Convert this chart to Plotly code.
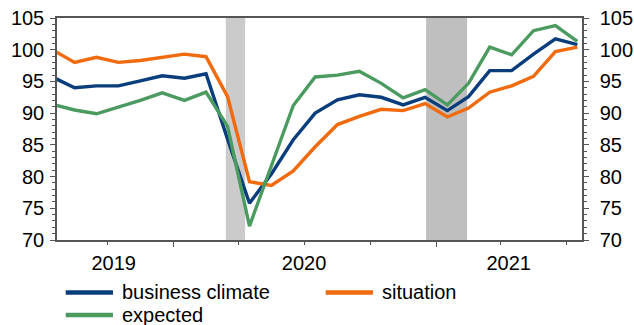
import plotly.graph_objects as go

# ---------------- data ----------------
months = ["2019-07", "2019-08", "2019-09", "2019-10", "2019-11", "2019-12",
          "2020-01", "2020-02", "2020-03", "2020-04", "2020-05", "2020-06",
          "2020-07", "2020-08", "2020-09", "2020-10", "2020-11", "2020-12",
          "2021-01", "2021-02", "2021-03", "2021-04", "2021-05", "2021-06",
          "2021-07"]

business_climate = [95.7, 94.0, 94.3, 94.3, 95.1, 95.9, 95.5, 96.2, 85.9, 75.8,
                    80.4, 85.8, 90.0, 92.1, 92.9, 92.5, 91.3, 92.5, 90.4, 92.6,
                    96.7, 96.7, 99.3, 101.7, 100.8]
situation = [100.0, 98.0, 98.8, 98.0, 98.3, 98.8, 99.3, 98.9, 92.6, 79.2,
             78.6, 80.9, 84.7, 88.2, 89.5, 90.6, 90.4, 91.5, 89.4, 90.8,
             93.3, 94.3, 95.8, 99.7, 100.4]
expected = [91.4, 90.5, 89.9, 90.9, 92.0, 93.2, 92.0, 93.3, 87.9, 72.2,
            81.7, 91.2, 95.7, 96.0, 96.6, 94.7, 92.4, 93.7, 91.3, 94.7,
            100.4, 99.2, 103.0, 103.8, 101.3]

series_names = ["business climate", "situation", "expected"]
series_colors = ["#0a3d7c", "#f06a0e", "#4b9a60"]

# shaded periods (start, end, colour)
shade_start = ["2020-03-14", "2020-12-18"]
shade_end = ["2020-04-10", "2021-02-13"]
shade_color = ["#cbcbcb", "#bfbfbf"]

year_labels = ["2019", "2020", "2021"]
year_label_pos = ["2019-10-10", "2020-07-01", "2021-04-12"]
year_bounds = ["2020-01-01", "2021-01-01"]
quarter_ticks = ["2019-10-01", "2020-04-01", "2020-07-01", "2020-10-01",
                 "2021-04-01", "2021-07-01"]

x_range = ["2019-07-23", "2021-07-23"]
y_range = [70, 105]

FONT = "Liberation Sans, Arial, sans-serif"
FS = 20
AXC = "#555555"

fig = go.Figure()
axes_for = [("x", "y"), ("x", "y"), ("x2", "y2")]
for name, vals, col, (xa, ya) in zip(series_names, [business_climate, situation, expected],
                                     series_colors, axes_for):
    fig.add_trace(go.Scatter(
        x=months, y=vals, name=name, mode="lines",
        xperiod="M1", xperiodalignment="middle",
        xaxis=xa, yaxis=ya,
        line=dict(color=col, width=3.4), showlegend=False,
        hoverinfo="skip"))

for s, e, c in zip(shade_start, shade_end, shade_color):
    fig.add_shape(type="rect", xref="x", yref="paper", x0=s, x1=e, y0=0, y1=1,
                  fillcolor=c, line=dict(width=0), layer="below")

# manual legend
leg_items = [
    (series_names[0], series_colors[0], 0.0166, -0.236),
    (series_names[1], series_colors[1], 0.5118, -0.236),
    (series_names[2], series_colors[2], 0.0166, -0.338),
]
for name, col, lx, ly in leg_items:
    fig.add_shape(type="line", xref="paper", yref="paper", x0=lx, x1=lx + 0.090,
                  y0=ly, y1=ly, line=dict(color=col, width=4.5))
    fig.add_annotation(xref="paper", yref="paper", x=lx + 0.103, y=ly,
                       text=name, showarrow=False, xanchor="left", yanchor="middle",
                       font=dict(family=FONT, size=FS, color="#000000"))

yaxis_common = dict(
    range=y_range, dtick=5, tick0=70, ticks="outside", ticklen=5, tickwidth=1.3,
    tickcolor=AXC, showline=True, linecolor=AXC, linewidth=1.5, showgrid=False,
    zeroline=False, automargin=False,
    tickfont=dict(family=FONT, size=FS, color="#000000"),
    minor=dict(dtick=1, tick0=70, ticks="outside", ticklen=3, tickwidth=1.1, tickcolor=AXC),
)

fig.update_layout(
    width=634, height=325,
    margin=dict(l=57, r=52, t=18, b=85, autoexpand=False),
    paper_bgcolor="white", plot_bgcolor="rgba(0,0,0,0)",
    font=dict(family=FONT, size=FS, color="#000000"),
    xaxis=dict(
        type="date", range=x_range, tickmode="array", tickvals=year_bounds,
        showticklabels=False, ticks="outside", ticklen=5, tickwidth=1.3, tickcolor=AXC,
        showline=True, linecolor=AXC, linewidth=1.5, mirror=True, showgrid=False,
        zeroline=False, automargin=False,
        minor=dict(tickmode="array", tickvals=quarter_ticks, ticks="outside",
                   ticklen=3, tickwidth=1.1, tickcolor=AXC, showgrid=False),
    ),
    xaxis2=dict(
        type="date", range=x_range, overlaying="x", anchor="y2", side="bottom",
        tickmode="array", tickvals=year_label_pos, ticktext=year_labels,
        ticks="outside", ticklen=5, tickcolor="rgba(0,0,0,0)",
        showline=False, showgrid=False, zeroline=False, automargin=False,
        tickfont=dict(family=FONT, size=FS, color="#000000"),
    ),
    yaxis=dict(side="left", anchor="x", ticklabelstandoff=2, **yaxis_common),
    yaxis2=dict(side="right", overlaying="y", anchor="x2", ticklabelstandoff=7,
                **yaxis_common),
)

fig.write_html("out.html")
